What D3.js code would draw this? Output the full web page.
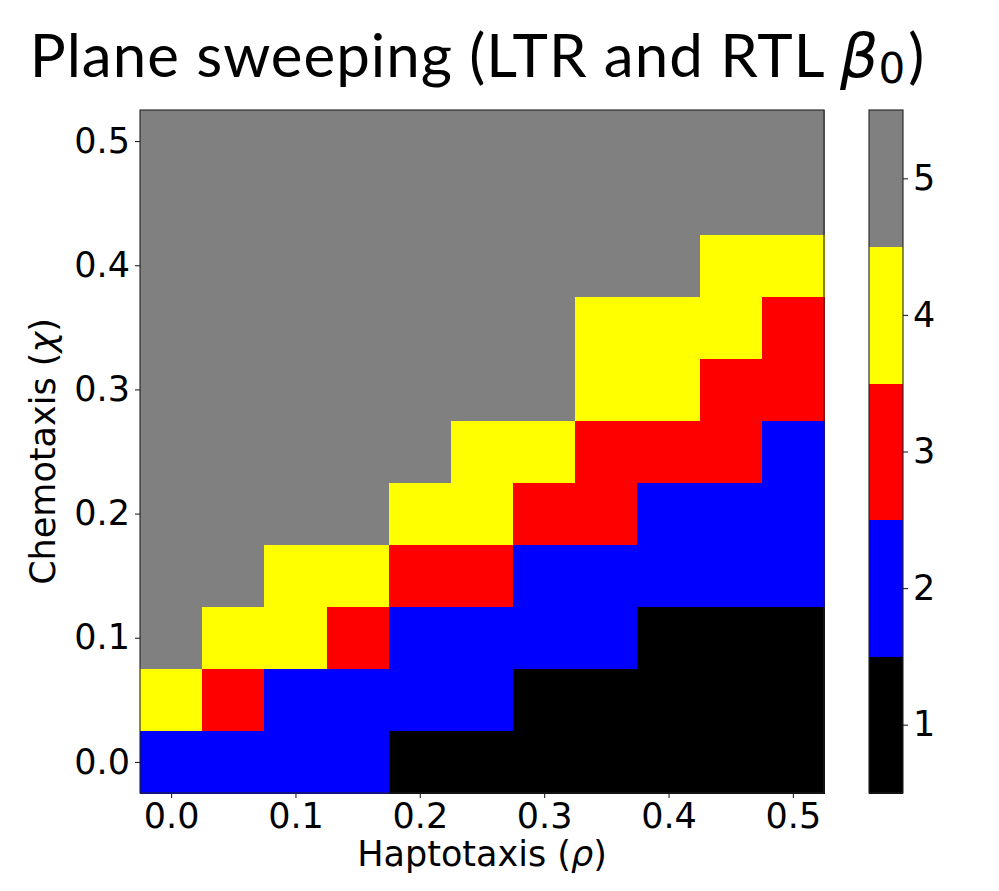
<!DOCTYPE html>
<html>
<head>
<meta charset="utf-8">
<script src="https://cdn.jsdelivr.net/npm/d3@7"></script>
<style>
  html, body { margin: 0; padding: 0; background: #fff; }
  svg { display: block; }
  .tick text { font-family: "DejaVu Sans", sans-serif; }
</style>
</head>
<body>
<div id="chart"></div>
<script>
// haptotaxis (x) and chemotaxis (y) parameter values
const RHO = [0, 0.05, 0.1, 0.15, 0.2, 0.25, 0.3, 0.35, 0.4, 0.45, 0.5];
const CHI = [0, 0.05, 0.1, 0.15, 0.2, 0.25, 0.3, 0.35, 0.4, 0.45, 0.5];

// beta_0 per chemotaxis row (bottom to top), one value per haptotaxis column
const BETA0 = [
  [2, 2, 2, 2, 1, 1, 1, 1, 1, 1, 1],
  [4, 3, 2, 2, 2, 2, 1, 1, 1, 1, 1],
  [5, 4, 4, 3, 2, 2, 2, 2, 1, 1, 1],
  [5, 5, 4, 4, 3, 3, 2, 2, 2, 2, 2],
  [5, 5, 5, 5, 4, 4, 3, 3, 2, 2, 2],
  [5, 5, 5, 5, 5, 4, 4, 3, 3, 3, 2],
  [5, 5, 5, 5, 5, 5, 5, 4, 4, 3, 3],
  [5, 5, 5, 5, 5, 5, 5, 4, 4, 4, 3],
  [5, 5, 5, 5, 5, 5, 5, 5, 5, 4, 4],
  [5, 5, 5, 5, 5, 5, 5, 5, 5, 5, 5],
  [5, 5, 5, 5, 5, 5, 5, 5, 5, 5, 5],
];

const LEVELS = [1, 2, 3, 4, 5];
const LEVEL_COLORS = ['#000000', '#0000ff', '#ff0000', '#ffff00', '#808080'];

const TICKS = [0, 0.1, 0.2, 0.3, 0.4, 0.5];

const W = 999, H = 891;
const FONT = '"DejaVu Sans", sans-serif';
const FS = 35;

const margins = { left: 140, right: 175, top: 110, bottom: 98 };
const plotW = W - margins.left - margins.right;
const plotH = H - margins.top - margins.bottom;

const svg = d3.select('#chart').append('svg')
  .attr('width', W)
  .attr('height', H);

const cells = [];
CHI.forEach((chi, i) => {
  RHO.forEach((rho, j) => cells.push({ rho, chi, v: BETA0[i][j] }));
});

const xBand = d3.scaleBand().domain(RHO).range([margins.left, margins.left + plotW]);
const yBand = d3.scaleBand().domain(CHI).range([margins.top + plotH, margins.top]);

const step = RHO[1] - RHO[0];
const xScale = d3.scaleLinear()
  .domain([RHO[0] - step / 2, RHO[RHO.length - 1] + step / 2])
  .range([margins.left, margins.left + plotW]);
const yScale = d3.scaleLinear()
  .domain([CHI[0] - step / 2, CHI[CHI.length - 1] + step / 2])
  .range([margins.top + plotH, margins.top]);

const color = d3.scaleOrdinal().domain(LEVELS).range(LEVEL_COLORS);

svg.append('g')
  .selectAll('rect')
  .data(cells)
  .join('rect')
    .attr('x', d => xBand(d.rho))
    .attr('y', d => yBand(d.chi))
    .attr('width', xBand.bandwidth() + 0.5)
    .attr('height', yBand.bandwidth() + 0.5)
    .attr('fill', d => color(d.v))
    .attr('shape-rendering', 'crispEdges');

svg.append('rect')
  .attr('x', margins.left)
  .attr('y', margins.top)
  .attr('width', plotW)
  .attr('height', plotH)
  .attr('fill', 'none')
  .attr('stroke', '#222')
  .attr('stroke-width', 1.1);

const fmt = d3.format('.1f');

function styleAxis(g) {
  g.select('.domain').remove();
  g.selectAll('.tick line').attr('stroke', '#222').attr('stroke-width', 1.1);
  g.selectAll('.tick text')
    .attr('fill', '#000')
    .style('font-size', FS + 'px')
    .style('font-family', FONT);
}

svg.append('g')
  .attr('transform', 'translate(0,' + (margins.top + plotH) + ')')
  .call(d3.axisBottom(xScale).tickValues(TICKS).tickFormat(fmt).tickSize(5).tickPadding(5))
  .call(styleAxis);

svg.append('g')
  .attr('transform', 'translate(' + margins.left + ',0)')
  .call(d3.axisLeft(yScale).tickValues(TICKS).tickFormat(fmt).tickSize(5).tickPadding(5))
  .call(styleAxis);

// axis labels
const xLabel = svg.append('text')
  .attr('x', margins.left + plotW / 2)
  .attr('y', 866)
  .attr('text-anchor', 'middle')
  .style('font-family', FONT)
  .style('font-size', FS + 'px');
xLabel.append('tspan').text('Haptotaxis (');
xLabel.append('tspan').attr('font-style', 'oblique').text('ρ');
xLabel.append('tspan').text(')');

const yLabel = svg.append('text')
  .attr('transform', 'translate(55,' + (margins.top + plotH / 2) + ') rotate(-90)')
  .attr('text-anchor', 'middle')
  .style('font-family', FONT)
  .style('font-size', FS + 'px');
yLabel.append('tspan').text('Chemotaxis (');
yLabel.append('tspan').attr('font-style', 'oblique').text('χ');
yLabel.append('tspan').text(')');

// title (matplotlib mathtext for beta_0)
const title = svg.append('text')
  .attr('x', 477)
  .attr('y', 77)
  .attr('text-anchor', 'middle')
  .style('font-family', 'Lato, "Noto Sans", sans-serif')
  .style('font-size', '60px');
title.append('tspan').attr('letter-spacing', 1).text('Plane sweeping (LTR and RTL ');
title.append('tspan').attr('font-family', FONT).attr('font-style', 'oblique').text('β');
title.append('tspan').attr('font-family', FONT).attr('font-size', '42px').attr('dy', 6).text('0');
title.append('tspan').attr('dy', -6).attr('dx', 3).text(')');

// colorbar
const cb = { x: 869, w: 34 };
const cbScale = d3.scaleLinear()
  .domain([LEVELS[0] - 0.5, LEVELS[LEVELS.length - 1] + 0.5])
  .range([margins.top + plotH, margins.top]);

svg.append('g')
  .selectAll('rect')
  .data(LEVELS)
  .join('rect')
    .attr('x', cb.x)
    .attr('y', d => cbScale(d + 0.5))
    .attr('width', cb.w)
    .attr('height', d => cbScale(d - 0.5) - cbScale(d + 0.5) + 0.5)
    .attr('fill', d => color(d))
    .attr('shape-rendering', 'crispEdges');

svg.append('rect')
  .attr('x', cb.x)
  .attr('y', margins.top)
  .attr('width', cb.w)
  .attr('height', plotH)
  .attr('fill', 'none')
  .attr('stroke', '#222')
  .attr('stroke-width', 1.1);

svg.append('g')
  .attr('transform', 'translate(' + (cb.x + cb.w) + ',0)')
  .call(d3.axisRight(cbScale).tickValues(LEVELS).tickFormat(d3.format('d')).tickSize(5).tickPadding(5))
  .call(styleAxis);
</script>
</body>
</html>
